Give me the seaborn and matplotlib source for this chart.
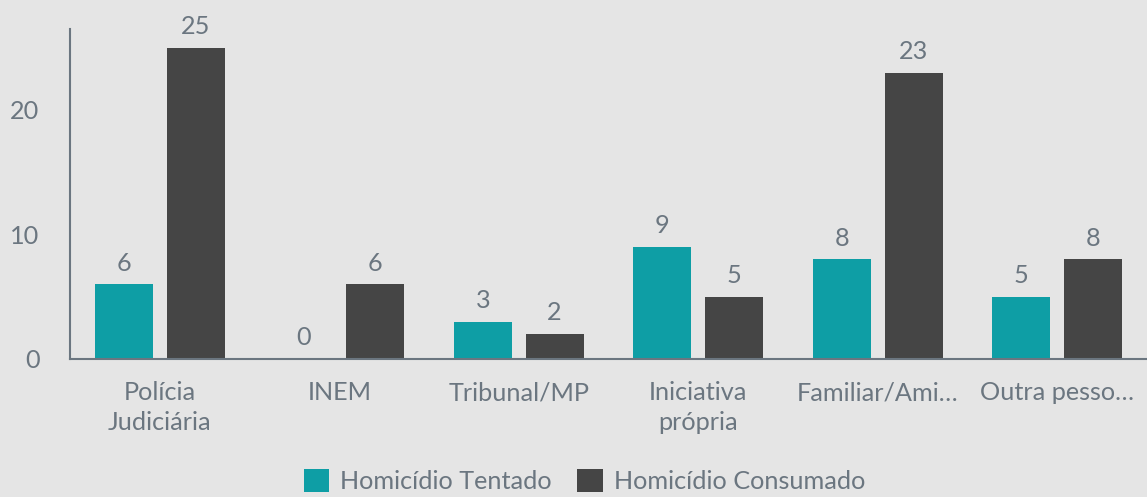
import pandas as pd
import matplotlib.pyplot as plt
import seaborn as sns

# dados
categorias = ["Polícia\nJudiciária", "INEM", "Tribunal/MP", "Iniciativa\nprópria",
              "Familiar/Ami…", "Outra pesso…"]
tentado = [6, 0, 3, 9, 8, 5]
consumado = [25, 6, 2, 5, 23, 8]
series = ["Homicídio Tentado", "Homicídio Consumado"]

df = pd.DataFrame({
    "categoria": categorias * 2,
    "valor": tentado + consumado,
    "serie": [series[0]] * len(categorias) + [series[1]] * len(categorias),
})

fundo = "#e5e5e5"
texto = "#6b7680"
cores = ["#0e9ea5", "#454545"]
fs = 18.2

sns.set_style("white")
plt.rcParams["font.family"] = ["Lato", "DejaVu Sans"]

fig = plt.figure(figsize=(11.47, 4.97), dpi=100, facecolor=fundo)
ax = fig.add_axes([70 / 1147, 1 - 359 / 497, 1 - 70 / 1147, (359 - 29) / 497])
ax.set_facecolor(fundo)

sns.barplot(data=df, x="categoria", y="valor", hue="serie", palette=cores,
            saturation=1, linewidth=0, width=0.8, gap=0.19, ax=ax, legend=True)

for cont in ax.containers:
    ax.bar_label(cont, labels=[f"{v:.0f}" for v in cont.datavalues],
                 padding=7, fontsize=fs, color=texto)

ax.set_ylim(0, 26.5)
ax.set_xlim(-0.5, 5.5)
ax.set_yticks([0, 10, 20])
ax.set_xlabel("")
ax.set_ylabel("")
ax.tick_params(axis="both", length=0, labelsize=fs, colors=texto)
ax.tick_params(axis="y", pad=22)
ax.tick_params(axis="x", pad=16)
for lbl in ax.get_xticklabels():
    lbl.set_linespacing(1.35)

for s in ["top", "right"]:
    ax.spines[s].set_visible(False)
for s in ["left", "bottom"]:
    ax.spines[s].set_color(texto)
    ax.spines[s].set_linewidth(1.5)

handles, labels = ax.get_legend_handles_labels()
ax.legend(handles, labels, loc="center", bbox_to_anchor=(0.5 - 24 / 1077, -0.37),
          ncol=2, frameon=False, fontsize=fs, labelcolor=texto,
          handlelength=1.0, handleheight=1.0, handletextpad=0.45, columnspacing=1.0)

plt.savefig("out.png", dpi=100, facecolor=fundo)
